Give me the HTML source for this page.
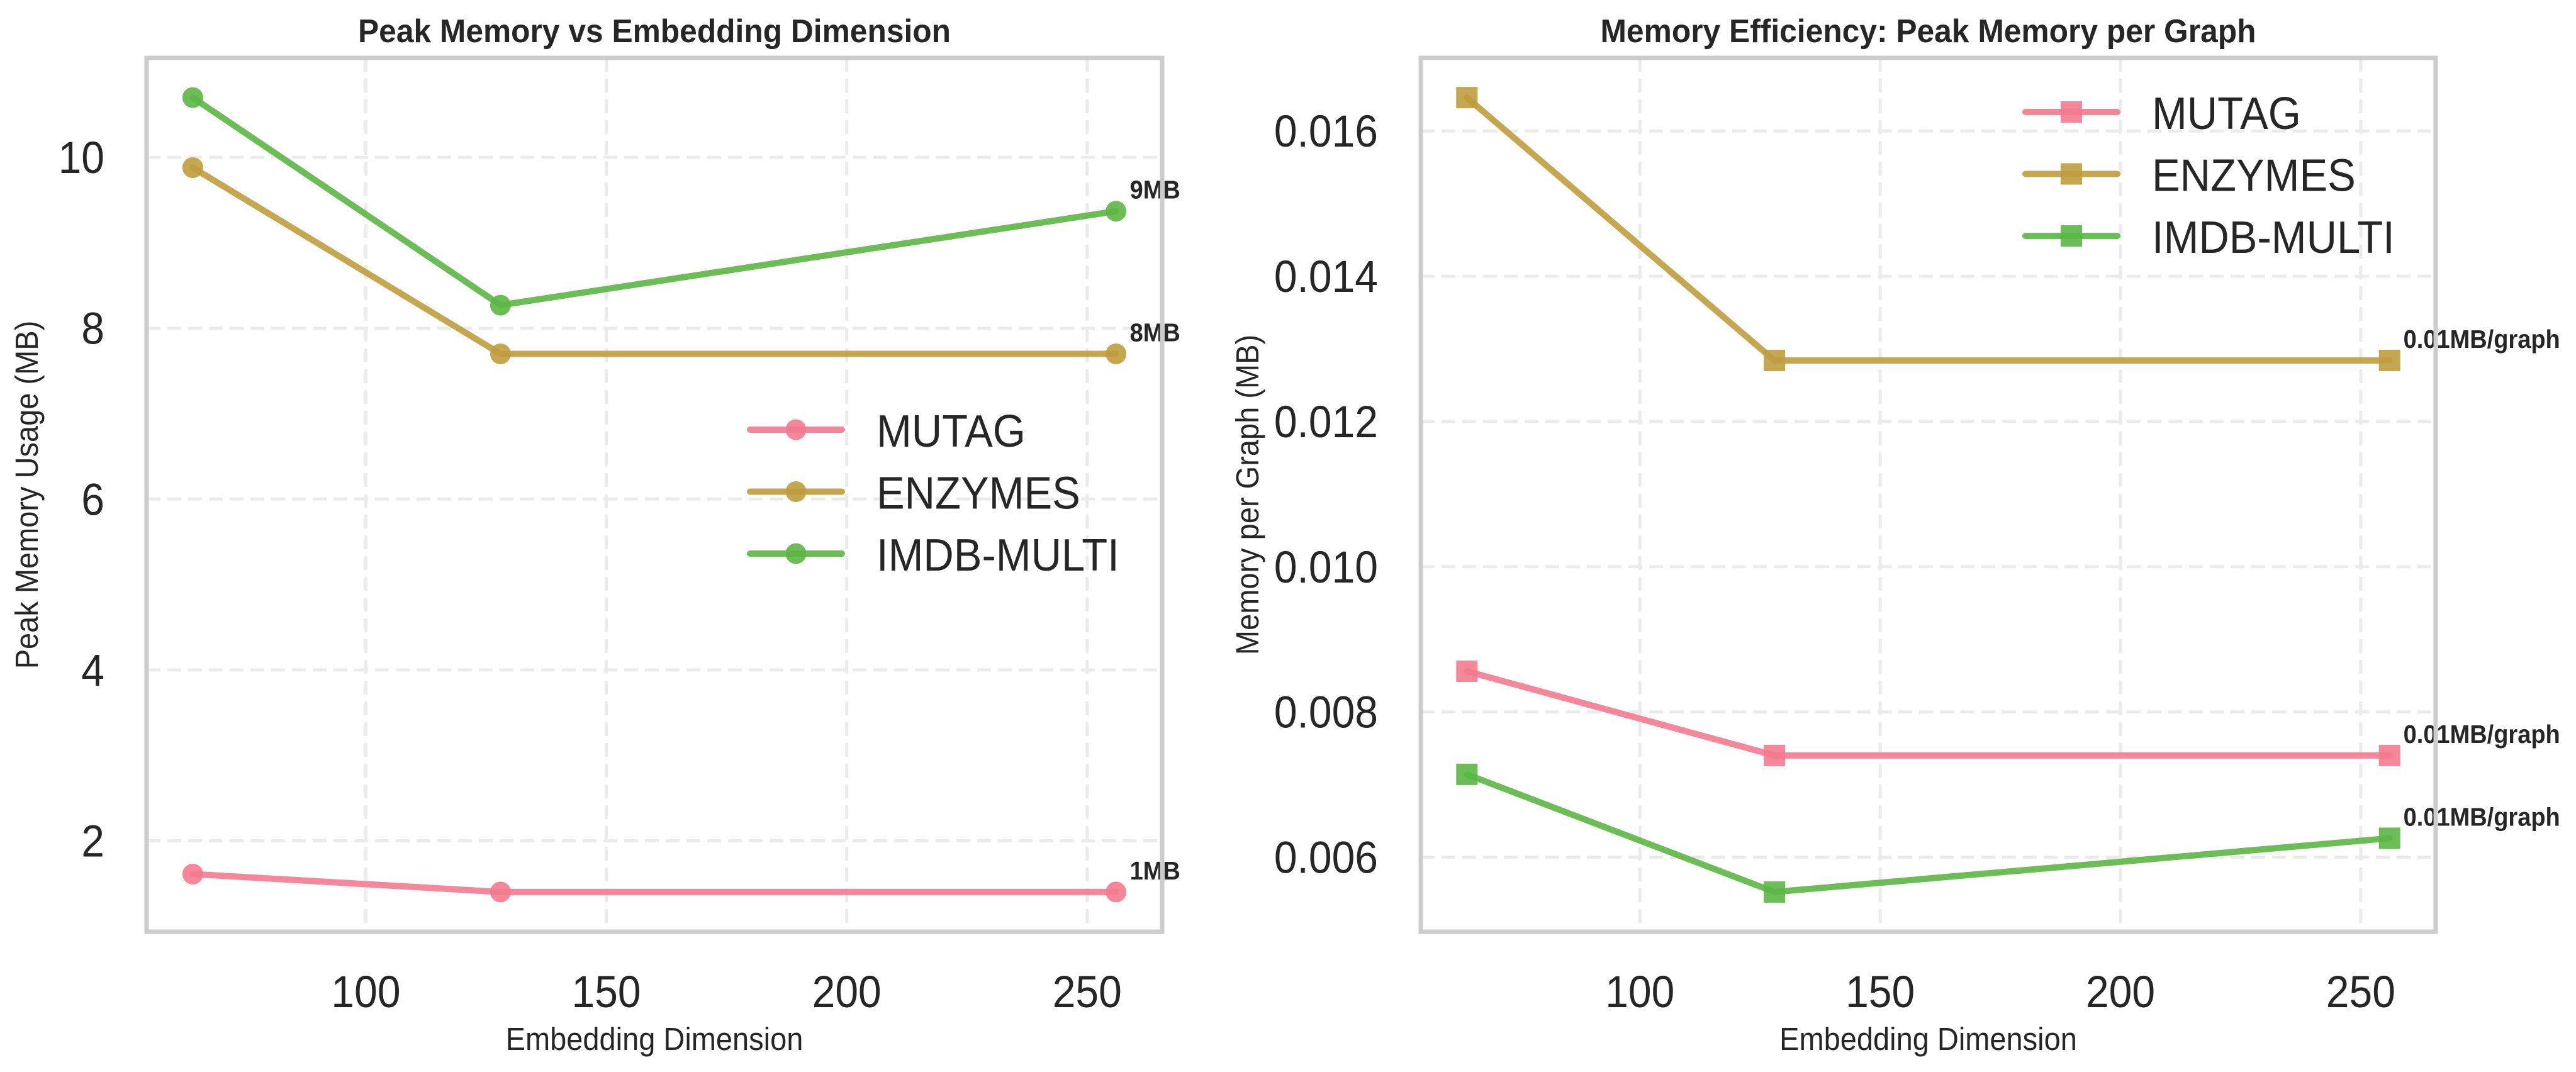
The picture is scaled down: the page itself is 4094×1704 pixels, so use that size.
<!DOCTYPE html>
<html><head><meta charset="utf-8">
<style>
html,body{margin:0;padding:0;background:#fff;}
svg{display:block;font-family:"Liberation Sans",Arial,sans-serif;}
</style></head>
<body>
<svg id="fig" width="4094" height="1704" viewBox="0 0 4094 1704" xmlns="http://www.w3.org/2000/svg"></svg>
<script>
const dims = [64, 128, 256];
const seriesNames = ["MUTAG", "ENZYMES", "IMDB-MULTI"];
const peakMUTAG = [1.61, 1.40, 1.40];
const peakENZYMES = [9.88, 7.70, 7.70];
const peakIMDB = [10.70, 8.27, 9.37];
const perGraphMUTAG = [0.00856, 0.00740, 0.00740];
const perGraphENZYMES = [0.01646, 0.01284, 0.01284];
const perGraphIMDB = [0.00714, 0.00552, 0.00626];
const peakLabels = ["1MB", "8MB", "9MB"];
const perGraphLabels = ["0.01MB/graph", "0.01MB/graph", "0.01MB/graph"];
const xTicks = [100, 150, 200, 250];
const yTicksLeft = [2, 4, 6, 8, 10];
const yTicksRight = [0.006, 0.008, 0.010, 0.012, 0.014, 0.016];

const colors = ["#f37a8f", "#bf9c3e", "#5cb645"];
const NS = "http://www.w3.org/2000/svg";
const SY = 1.08;
const svg = document.getElementById("fig");
function mk(tag, attrs, parent) {
  const e = document.createElementNS(NS, tag);
  for (const k in attrs) e.setAttribute(k, attrs[k]);
  (parent || svg).appendChild(e);
  return e;
}
function txt(x, y, attrs, parent, rot) {
  attrs.x = 0; attrs.y = 0;
  attrs.transform = "translate(" + x + "," + y + ")" + (rot ? " rotate(-90)" : "") + " scale(1," + SY + ")";
  return mk("text", attrs, parent);
}
function extent(arrs) {
  let lo = Infinity, hi = -Infinity;
  arrs.forEach(a => a.forEach(v => { lo = Math.min(lo, v); hi = Math.max(hi, v); }));
  const m = (hi - lo) * 0.05;
  return [lo - m, hi + m];
}

function panel(opt) {
  const g = mk("g", {});
  
  
  const L = opt.left, R = opt.right, T = 92, B = 1481;
  const [x0, x1] = extent([dims]);
  const [y0, y1] = extent(opt.data);
  const sx = v => L + (v - x0) / (x1 - x0) * (R - L);
  const sy = v => B - (v - y0) / (y1 - y0) * (B - T);

  xTicks.forEach(t => {
    const l = mk("line", {x1: sx(t), x2: sx(t), y1: T, y2: B, stroke: "#ebebeb", "stroke-width": 5, "stroke-dasharray": "22,11"}, g);
    
    
    const tx = txt(sx(t), 1601, {"font-size": 66, fill: "#262626", "text-anchor": "middle"}, g);
    tx.textContent = t;
    
    
  });
  opt.yTicks.forEach(t => {
    const l = mk("line", {x1: L, x2: R, y1: sy(t), y2: sy(t), stroke: "#ebebeb", "stroke-width": 5, "stroke-dasharray": "22,11"}, g);
    
    
    const tx = txt(opt.tickRight, sy(t) + 25, {"font-size": 66, fill: "#262626", "text-anchor": "end"}, g);
    tx.textContent = opt.fmt(t);
    
    
  });

  opt.data.forEach((arr, si) => {
    const pts = arr.map((v, i) => sx(dims[i]) + "," + sy(v)).join(" ");
    const pl = mk("polyline", {points: pts, fill: "none", stroke: colors[si], "stroke-width": 10, "stroke-linecap": "round", "stroke-linejoin": "round", opacity: 0.9}, g);
    
    
    arr.forEach((v, i) => {
      let m;
      if (opt.square) m = mk("rect", {x: sx(dims[i]) - 17, y: sy(v) - 17, width: 34, height: 34, fill: colors[si], opacity: 0.9}, g);
      else m = mk("circle", {cx: sx(dims[i]), cy: sy(v), r: 16.5, fill: colors[si], opacity: 0.9}, g);
      
      
    });
    const last = arr.length - 1;
    const an = txt(sx(dims[last]) + 22, sy(arr[last]) - 20, {"font-size": 38, "font-weight": "bold", fill: "#262626"}, g);
    an.textContent = opt.labels[si];
    
    
  });

  const fr = mk("rect", {x: L, y: T, width: R - L, height: B - T, fill: "none", stroke: "#cccccc", "stroke-width": 7}, g);
  
  

  const tt = txt((L + R) / 2, 67, {"font-size": 48, "font-weight": "bold", fill: "#262626", "text-anchor": "middle", textLength: opt.titleLen, lengthAdjust: "spacingAndGlyphs"}, g);
  tt.textContent = opt.title;
  
  
  const xl = txt((L + R) / 2, 1669, {"font-size": 47, fill: "#262626", "text-anchor": "middle"}, g);
  xl.textContent = "Embedding Dimension";
  
  
  const yl = txt(opt.ylabX, (T + B) / 2, {"font-size": 47, fill: "#262626", "text-anchor": "middle"}, g, true);
  yl.textContent = opt.ylabel;
  
  

  const lg = mk("g", {}, g);
  
  
  seriesNames.forEach((n, si) => {
    const y = opt.legY + si * 98.5;
    const e = mk("g", {}, lg);
    
    
    mk("line", {x1: opt.legX, x2: opt.legX + 146, y1: y, y2: y, stroke: colors[si], "stroke-width": 10, "stroke-linecap": "round", opacity: 0.9}, e);
    if (opt.square) mk("rect", {x: opt.legX + 73 - 17, y: y - 17, width: 34, height: 34, fill: colors[si], opacity: 0.9}, e);
    else mk("circle", {cx: opt.legX + 73, cy: y, r: 16.5, fill: colors[si], opacity: 0.9}, e);
    const t = txt(opt.legX + 201, y + 27, {"font-size": 67, fill: "#262626"}, e);
    t.textContent = n;
  });
}

panel({name: "peak-memory-chart", left: 233, right: 1847, data: [peakMUTAG, peakENZYMES, peakIMDB],
  yTicks: yTicksLeft, fmt: v => String(v), tickRight: 166, labels: peakLabels,
  title: "Peak Memory vs Embedding Dimension", titleLen: 942, ylabel: "Peak Memory Usage (MB)", ylabX: 60,
  legX: 1192, legY: 683, square: false});
panel({name: "memory-per-graph-chart", left: 2258, right: 3871, data: [perGraphMUTAG, perGraphENZYMES, perGraphIMDB],
  yTicks: yTicksRight, fmt: v => v.toFixed(3), tickRight: 2190, labels: perGraphLabels,
  title: "Memory Efficiency: Peak Memory per Graph", titleLen: 1042, ylabel: "Memory per Graph (MB)", ylabX: 2000,
  legX: 3219, legY: 178, square: true});
</script>
</body></html>
